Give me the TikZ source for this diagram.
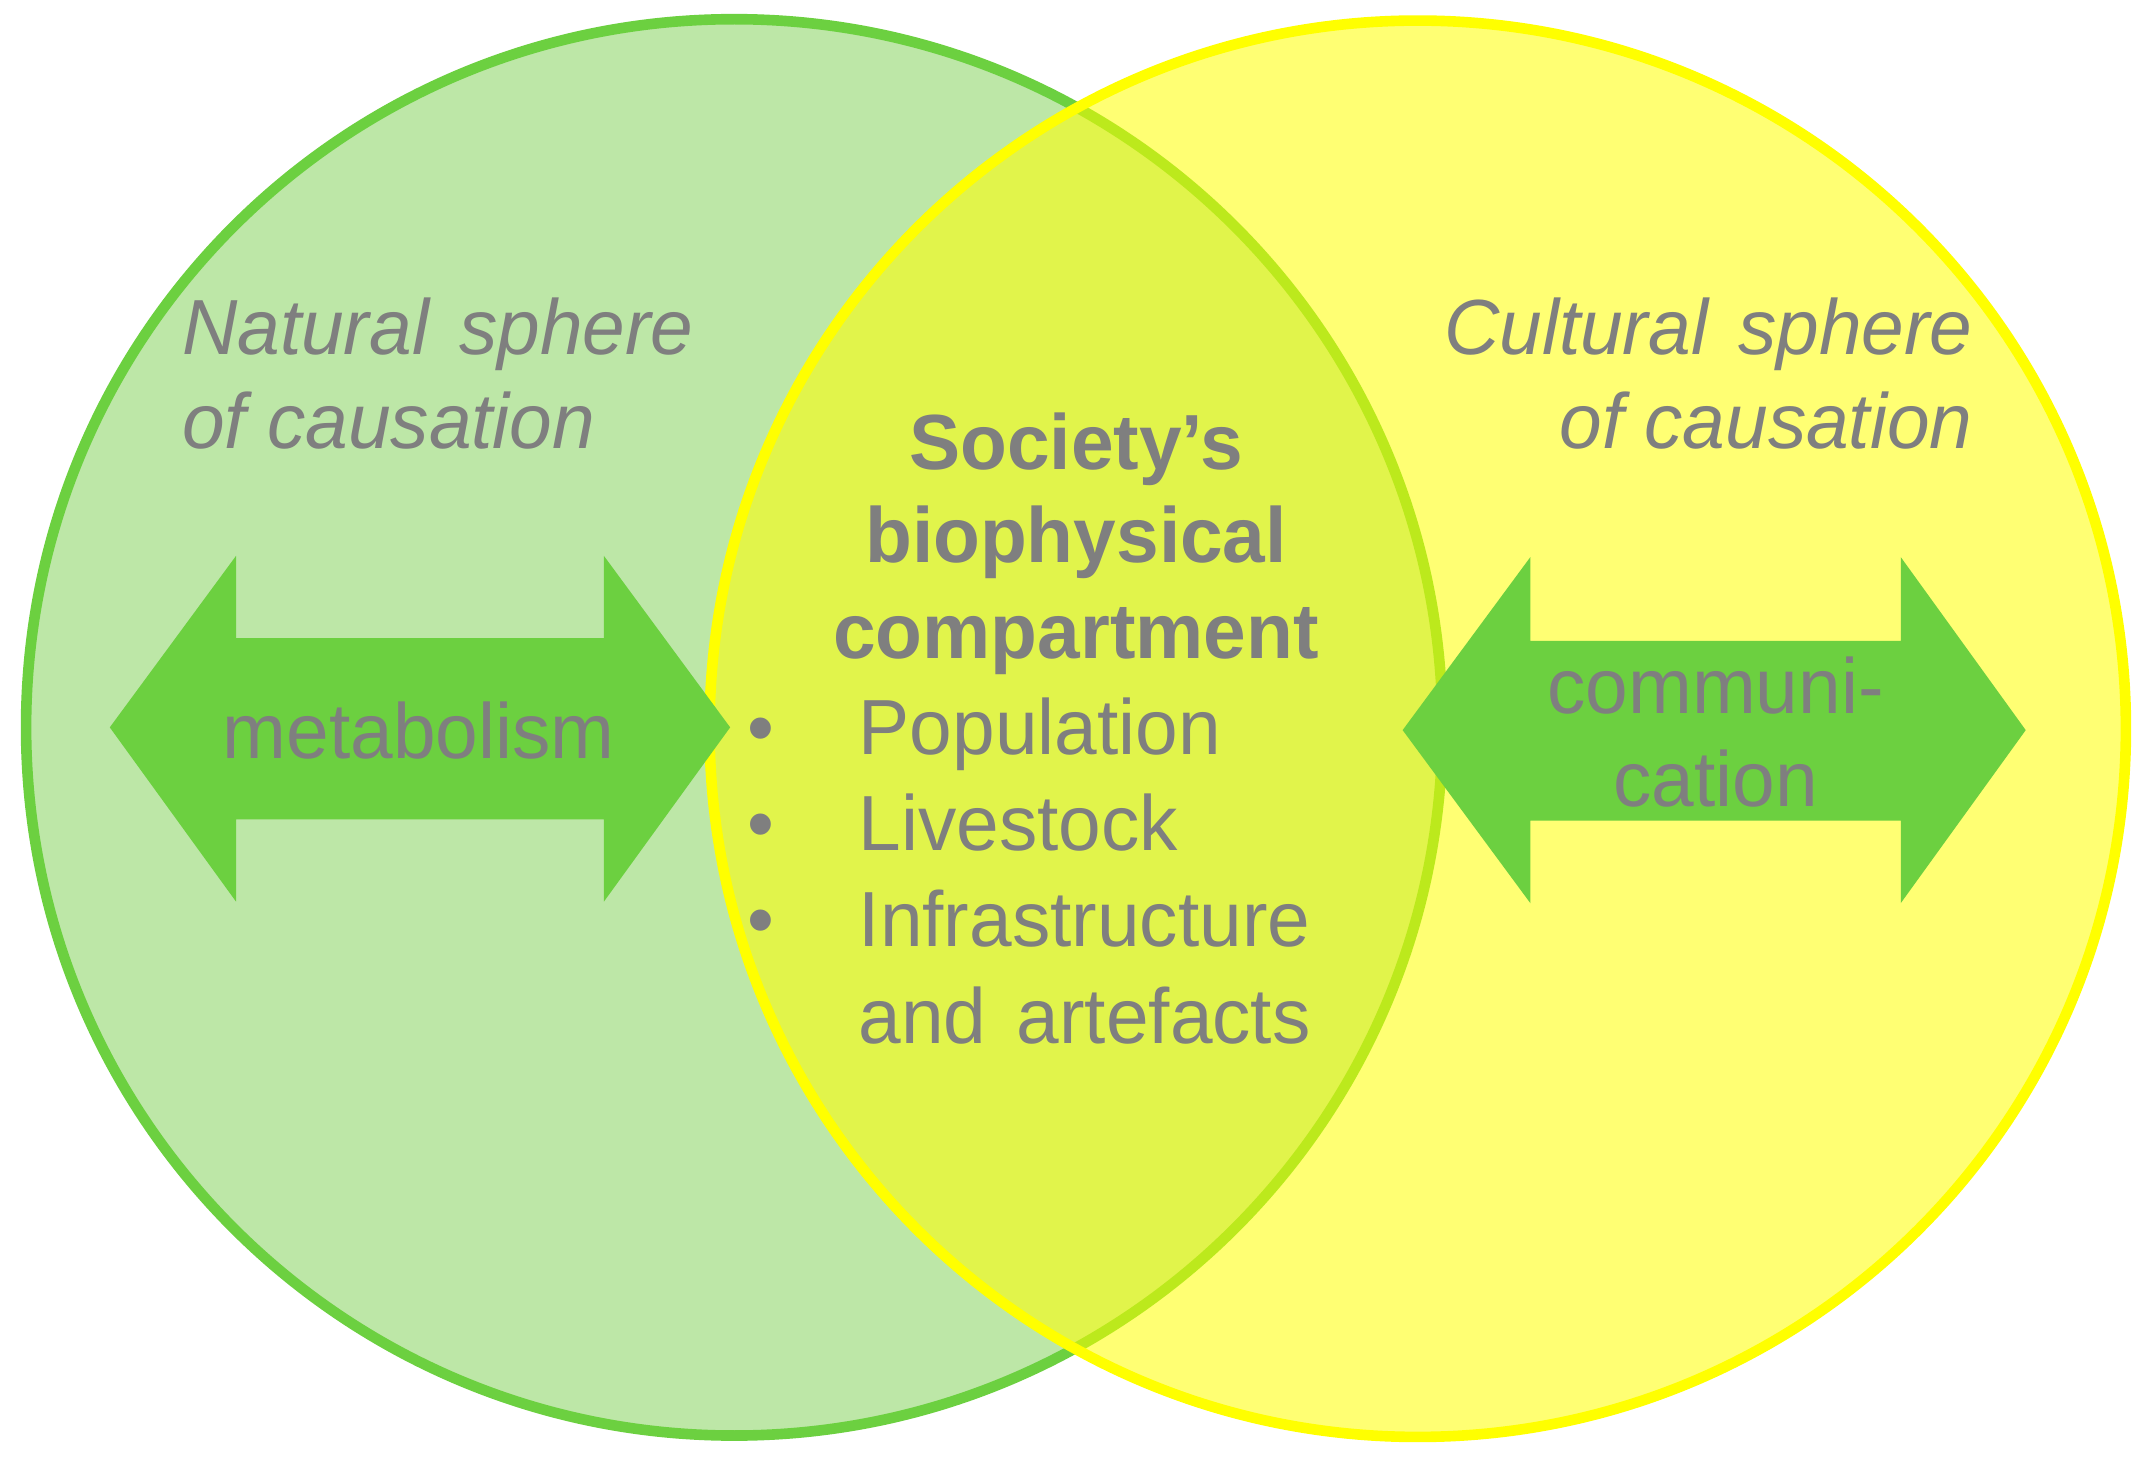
\documentclass[tikz,border=0pt]{standalone}
\usepackage{fontspec}
\setmainfont[FakeStretch=0.98]{Liberation Sans}
\begin{document}
\begin{tikzpicture}[x=0.01cm,y=-0.01cm,
  txt/.style={text=tgray,inner sep=0pt,font=\fontsize{16.2}{19.6}\selectfont},
  itxt/.style={txt,font=\fontsize{16.2}{19.6}\selectfont\itshape},
  btxt/.style={txt,font=\fontsize{16.2}{19.6}\selectfont\bfseries},
  arrowfill/.style={fill=agreen}]
\definecolor{tgray}{HTML}{7F7F7F}
\definecolor{agreen}{HTML}{6CD040}
\definecolor{lgreen}{HTML}{BDE7A7}
\definecolor{bgreen}{HTML}{6CD040}
\definecolor{yel}{HTML}{FFFF00}
\useasboundingbox (0,0) rectangle (1568,1065);
\fill[white] (0,0) rectangle (1568,1065);
% circles
\filldraw[fill=lgreen,draw=bgreen,line width=2.2pt] (535,530) circle[radius=516];
\fill[yel,opacity=0.55] (1033,531) circle[radius=516];
\draw[yel,line width=2.2pt] (1033,531) circle[radius=516];
% arrows
\fill[arrowfill] (80,530) -- (172,405) -- (172,465) -- (440,465) -- (440,405) -- (532,530)
  -- (440,657) -- (440,597) -- (172,597) -- (172,657) -- cycle;
\fill[arrowfill] (1022,532) -- (1115,406) -- (1115,467) -- (1385,467) -- (1385,406) -- (1476,532)
  -- (1385,658) -- (1385,598) -- (1115,598) -- (1115,658) -- cycle;
% texts
\node[itxt,anchor=base west] (nat1) at (132,258) {Natural\hspace{0.22cm}sphere};
\node[itxt,anchor=base west] (nat2) at (132,327) {of causation};
\node[itxt,anchor=base east] (cul1) at (1438,258) {Cultural\hspace{0.22cm}sphere};
\node[itxt,anchor=base east] (cul2) at (1438,327) {of causation};
\node[btxt,anchor=base] (soc1) at (784,342) {Society’s};
\node[btxt,anchor=base] (soc2) at (784,410) {biophysical};
\node[btxt,anchor=base] (soc3) at (784,480) {compartment};
\node[txt,anchor=base west] (b1) at (544,550) {•};
\node[txt,anchor=base west] (b2) at (544,620) {•};
\node[txt,anchor=base west] (b3) at (544,690) {•};
\node[txt,anchor=base west] (l1) at (625,550) {Population};
\node[txt,anchor=base west] (l2) at (625,620) {Livestock};
\node[txt,anchor=base west] (l3) at (625,690) {Infrastructure};
\node[txt,anchor=base west] (l4) at (625,760) {and\hspace{0.22cm}artefacts};
\node[txt,anchor=base] (met) at (305,553) {metabolism};
\node[txt,anchor=base] (com1) at (1250,520) {communi-};
\node[txt,anchor=base] (com2) at (1250,588) {cation};
\end{tikzpicture}
\end{document}
